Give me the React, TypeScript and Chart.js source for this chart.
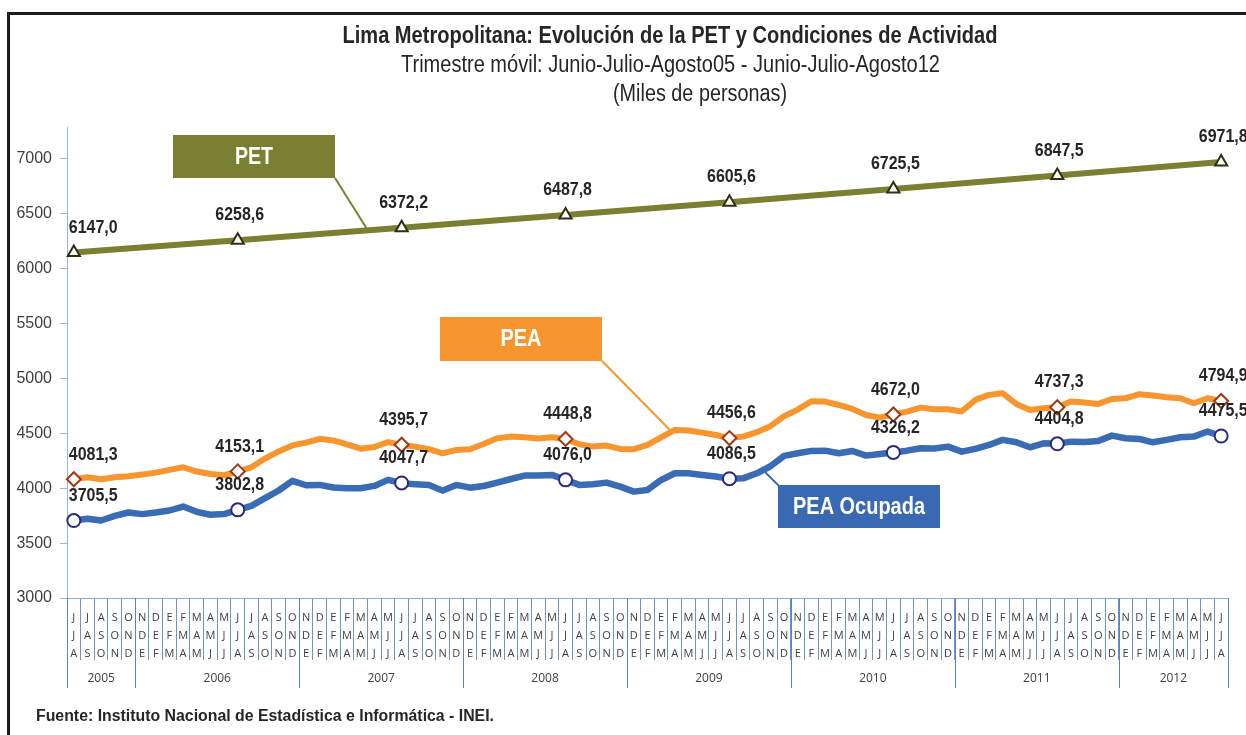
import React, { useEffect, useRef } from "react";
import { Chart, registerables } from "chart.js";

Chart.register(...registerables);

// Rolling quarters (first letters of the three months), Jun-Jul-Ago 2005 .. Jun-Jul-Ago 2012
const TRIMESTRES = [
  "JJA", "JAS", "ASO", "SON", "OND",
  "NDE", "DEF", "EFM", "FMA", "MAM", "AMJ", "MJJ", "JJA", "JAS", "ASO", "SON", "OND",
  "NDE", "DEF", "EFM", "FMA", "MAM", "AMJ", "MJJ", "JJA", "JAS", "ASO", "SON", "OND",
  "NDE", "DEF", "EFM", "FMA", "MAM", "AMJ", "MJJ", "JJA", "JAS", "ASO", "SON", "OND",
  "NDE", "DEF", "EFM", "FMA", "MAM", "AMJ", "MJJ", "JJA", "JAS", "ASO", "SON", "OND",
  "NDE", "DEF", "EFM", "FMA", "MAM", "AMJ", "MJJ", "JJA", "JAS", "ASO", "SON", "OND",
  "NDE", "DEF", "EFM", "FMA", "MAM", "AMJ", "MJJ", "JJA", "JAS", "ASO", "SON", "OND",
  "NDE", "DEF", "EFM", "FMA", "MAM", "AMJ", "MJJ", "JJA",
];

const YEARS = ["2005", "2006", "2007", "2008", "2009", "2010", "2011", "2012"];
const YEAR_COUNTS = [5, 12, 12, 12, 12, 12, 12, 8];

const Y_TICKS = [3000, 3500, 4000, 4500, 5000, 5500, 6000, 6500, 7000];

const MARKED = [0, 12, 24, 36, 48, 60, 72, 84];

const PET = [
  6147.0, null, null, null, null, null, null, null, null, null, null, null,
  6258.6, null, null, null, null, null, null, null, null, null, null, null,
  6372.2, null, null, null, null, null, null, null, null, null, null, null,
  6487.8, null, null, null, null, null, null, null, null, null, null, null,
  6605.6, null, null, null, null, null, null, null, null, null, null, null,
  6725.5, null, null, null, null, null, null, null, null, null, null, null,
  6847.5, null, null, null, null, null, null, null, null, null, null, null,
  6971.8,
];

const PEA = [
  4081.3, 4100, 4082, 4100, 4109, 4124, 4142, 4167, 4191, 4152, 4130, 4118,
  4153.1, 4190, 4270, 4335, 4390, 4415, 4450, 4435, 4400, 4360, 4375, 4420,
  4395.7, 4379, 4355, 4318, 4349, 4355, 4403, 4455, 4470, 4464, 4452, 4464,
  4448.8, 4400, 4379, 4388, 4358, 4355, 4394, 4464, 4531, 4525, 4506, 4485,
  4456.6, 4470, 4510, 4565, 4655, 4716, 4792, 4789, 4758, 4722, 4667, 4643,
  4672.0, 4698, 4734, 4719, 4719, 4698, 4804, 4850, 4865, 4768, 4713, 4728,
  4737.3, 4789, 4780, 4768, 4813, 4819, 4856, 4844, 4828, 4819, 4774, 4819,
  4794.9,
];

const PEA_OCUPADA = [
  3705.5, 3721, 3706, 3748, 3779, 3764, 3779, 3797, 3833, 3785, 3758, 3764,
  3802.8, 3839, 3909, 3979, 4067, 4027, 4030, 4006, 4000, 4000, 4021, 4076,
  4047.7, 4035, 4030, 3978, 4030, 4005, 4020, 4051, 4084, 4115, 4115, 4121,
  4076.0, 4030, 4036, 4051, 4014, 3969, 3984, 4075, 4136, 4136, 4121, 4106,
  4086.5, 4090, 4136, 4200, 4294, 4318, 4340, 4342, 4318, 4339, 4297, 4312,
  4326.2, 4342, 4364, 4361, 4379, 4333, 4358, 4394, 4440, 4418, 4373, 4409,
  4404.8, 4424, 4421, 4430, 4479, 4455, 4449, 4418, 4440, 4464, 4470, 4516,
  4475.5,
];

const SANS = '"Liberation Sans", Arial, "DejaVu Sans", sans-serif';
const LETTER_FONT = '"Open Sans", "DejaVu Sans", sans-serif';

const C_PET = "#7B7F32";
const C_PEA = "#F7962F";
const C_OCU = "#3A6CB5";

const fmt = (v: number) => v.toFixed(1).replace(".", ",");

// draws text horizontally condensed (to emulate a narrow face)
function drawText(
  ctx: CanvasRenderingContext2D,
  text: string,
  x: number,
  y: number,
  font: string,
  align: CanvasTextAlign,
  width?: number,
  sx: number = 1
) {
  ctx.save();
  ctx.font = font;
  let k = sx;
  if (width) k = width / ctx.measureText(text).width;
  ctx.translate(x, y);
  ctx.scale(k, 1);
  ctx.textAlign = align;
  ctx.textBaseline = "middle";
  ctx.fillText(text, 0, 0);
  ctx.restore();
}

const decorPlugin = {
  id: "decor",
  beforeDraw(chart: any) {
    const ctx = chart.ctx;
    ctx.save();
    ctx.fillStyle = "#ffffff";
    ctx.fillRect(0, 0, chart.width, chart.height);
    // frame
    ctx.fillStyle = "#1c1c1c";
    ctx.fillRect(7, 12, 3, chart.height - 12);
    ctx.fillRect(7, 12, chart.width - 7, 3);
    // titles
    ctx.fillStyle = "#262626";
    drawText(ctx, "Lima Metropolitana: Evolución de la PET y Condiciones de Actividad", 670, 37, `bold 23px ${SANS}`, "center", 655);
    drawText(ctx, "Trimestre móvil: Junio-Julio-Agosto05 - Junio-Julio-Agosto12", 670.5, 66, `23px ${SANS}`, "center", 539);
    drawText(ctx, "(Miles de personas)", 700, 95, `23px ${SANS}`, "center", 174);
    // footer
    drawText(ctx, "Fuente: Instituto Nacional de Estadística e Informática - INEI.", 36, 717, `bold 16px ${SANS}`, "left", 458);
    ctx.restore();
  },
  afterDatasetsDraw(chart: any) {
    const ctx = chart.ctx;
    ctx.save();
    // callout connectors
    ctx.lineWidth = 2;
    const line = (c: string, x1: number, y1: number, x2: number, y2: number) => {
      ctx.strokeStyle = c;
      ctx.beginPath();
      ctx.moveTo(x1, y1);
      ctx.lineTo(x2, y2);
      ctx.stroke();
    };
    line(C_PET, 335, 178, 367, 229);
    line(C_PEA, 602, 361, 670, 430);
    line(C_OCU, 763, 470, 779, 486);
    // callout boxes
    const box = (c: string, x: number, y: number, w: number, h: number, t: string, tw: number) => {
      ctx.fillStyle = c;
      ctx.fillRect(x, y, w, h);
      ctx.fillStyle = "#ffffff";
      drawText(ctx, t, x + w / 2, y + h / 2 + 1, `bold 23px ${SANS}`, "center", tw);
    };
    box(C_PET, 173, 135, 162, 43, "PET", 38);
    box(C_PEA, 440, 317, 162, 44, "PEA", 41);
    box("#3869B2", 778, 485, 162, 43, "PEA Ocupada", 132);
    // data labels
    ctx.fillStyle = "#262626";
    chart.data.datasets.forEach((ds: any, di: number) => {
      const meta = chart.getDatasetMeta(di);
      MARKED.forEach((i) => {
        const pt = meta.data[i];
        const v = ds.data[i];
        if (!pt || v == null) return;
        if (i === 0) {
          drawText(ctx, fmt(v), pt.x - 5, pt.y - 25, `bold 19px ${SANS}`, "left", undefined, 0.84);
        } else {
          drawText(ctx, fmt(v), pt.x + 2, pt.y - 25, `bold 19px ${SANS}`, "center", undefined, 0.84);
        }
      });
    });
    ctx.restore();
  },
  afterDraw(chart: any) {
    const ctx = chart.ctx;
    const xs = chart.scales.x;
    const area = chart.chartArea;
    const half = (xs.getPixelForValue(1) - xs.getPixelForValue(0)) / 2;
    ctx.save();
    ctx.strokeStyle = "#5B84C8";
    ctx.lineWidth = 1;
    ctx.fillStyle = "#404040";
    ctx.font = `12px ${LETTER_FONT}`;
    ctx.textAlign = "center";
    ctx.textBaseline = "middle";
    let start = 0;
    const drawSep = (x0: number) => {
      const x = Math.round(x0) + 0.5;
      ctx.beginPath();
      ctx.moveTo(x, area.bottom);
      ctx.lineTo(x, area.bottom + 90);
      ctx.stroke();
    };
    YEARS.forEach((y, k) => {
      drawSep(xs.getPixelForValue(start) - half);
      const end = start + YEAR_COUNTS[k];
      const cx = (xs.getPixelForValue(start) + xs.getPixelForValue(end - 1)) / 2;
      ctx.fillText(y, cx, area.bottom + 81);
      start = end;
    });
    drawSep(xs.getPixelForValue(start - 1) + half);
    ctx.restore();
  },
};

export default function App() {
  const ref = useRef<HTMLCanvasElement | null>(null);
  useEffect(() => {
    if (!ref.current) return;
    const markR = (r: number) => (c: any) => (MARKED.includes(c.dataIndex) ? r : 0);
    const chart = new Chart(ref.current, {
      type: "line",
      data: {
        labels: TRIMESTRES.map((s) => s.split("")),
        datasets: [
          {
            label: "PET",
            data: PET,
            borderColor: C_PET,
            borderWidth: 6,
            spanGaps: true,
            tension: 0,
            pointStyle: "triangle",
            pointRadius: markR(7),
            pointBackgroundColor: "#ffffff",
            pointBorderColor: "#2F3010",
            pointBorderWidth: 2,
          },
          {
            label: "PEA",
            data: PEA,
            borderColor: C_PEA,
            borderWidth: 6,
            tension: 0,
            borderJoinStyle: "round",
            pointStyle: "rectRot",
            pointRadius: markR(7),
            pointBackgroundColor: "#ffffff",
            pointBorderColor: "#9C3A17",
            pointBorderWidth: 2,
          },
          {
            label: "PEA Ocupada",
            data: PEA_OCUPADA,
            borderColor: C_OCU,
            borderWidth: 6.5,
            tension: 0,
            borderJoinStyle: "round",
            pointStyle: "circle",
            pointRadius: markR(6.5),
            pointBackgroundColor: "#ffffff",
            pointBorderColor: "#2B2A7E",
            pointBorderWidth: 2,
          },
        ],
      } as any,
      options: {
        responsive: false,
        animation: false,
        devicePixelRatio: 1,
        layout: { padding: { left: 10, right: 18, top: 127, bottom: 0 } },
        plugins: {
          legend: { display: false },
          title: { display: false },
          tooltip: { enabled: false },
        },
        scales: {
          x: {
            type: "category",
            offset: true,
            grid: {
              offset: true,
              drawOnChartArea: false,
              drawTicks: true,
              tickLength: 62,
              color: "#6F93CF",
              lineWidth: 1,
            },
            border: { display: true, color: "#8EAADB", width: 1 },
            ticks: {
              autoSkip: false,
              maxRotation: 0,
              minRotation: 0,
              padding: -51,
              color: "#404040",
              font: { family: LETTER_FONT, size: 11, lineHeight: "18px" },
            },
            afterFit: (s: any) => {
              s.height = 137;
            },
          },
          y: {
            min: 3000,
            max: 7290,
            ticks: {
              autoSkip: false,
              padding: 8,
              color: "#404040",
              font: { family: SANS, size: 16 },
              callback: (v: any) => String(v),
            },
            afterBuildTicks: (s: any) => {
              s.ticks = Y_TICKS.map((v) => ({ value: v }));
            },
            grid: { drawOnChartArea: false, tickLength: 7, color: "#9DB4E3" },
            border: { display: true, color: "#9DB4E3", dash: [2, 2] },
            afterFit: (s: any) => {
              s.width = 57;
            },
          },
        },
      } as any,
      plugins: [decorPlugin],
    });
    return () => chart.destroy();
  }, []);
  return (
    <div style={{ position: "absolute", left: 0, top: 0, width: 1246, height: 735 }}>
      <canvas ref={ref} width={1246} height={735} style={{ display: "block" }} />
    </div>
  );
}
